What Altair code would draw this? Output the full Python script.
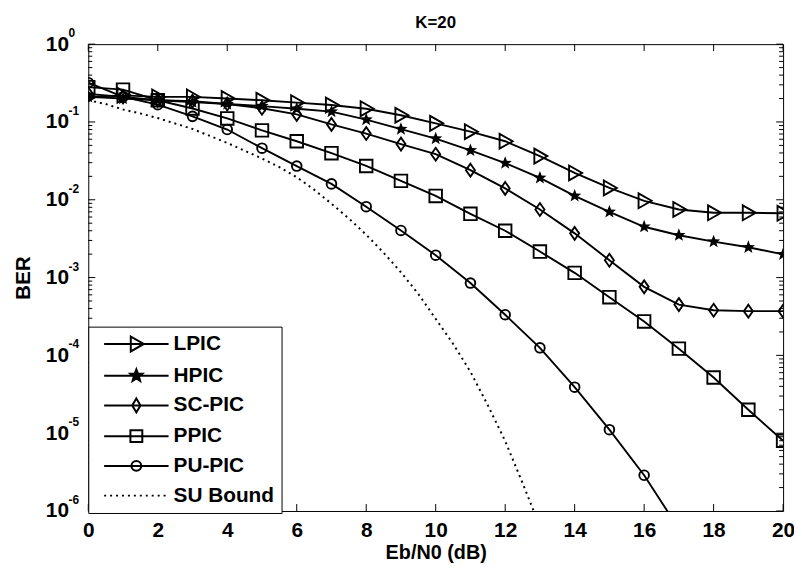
import math
import altair as alt
import pandas as pd

# ---------------- data ----------------
EBN0 = list(range(21))
LPIC = [0.21, 0.22, 0.21, 0.21, 0.20, 0.19, 0.177, 0.165, 0.148, 0.122, 0.096,
        0.075, 0.0565, 0.0364, 0.0221, 0.0142, 0.0097, 0.0075, 0.0068, 0.0068, 0.0067]
HPIC = [0.21, 0.20, 0.19, 0.18, 0.17, 0.16, 0.148, 0.136, 0.107, 0.081, 0.061,
        0.043, 0.0296, 0.0191, 0.0112, 0.0070, 0.0045, 0.0035, 0.0029, 0.00245, 0.00199]
SCPIC = [0.23, 0.21, 0.19, 0.185, 0.17, 0.15, 0.125, 0.093, 0.071, 0.052, 0.0385,
         0.024, 0.0140, 0.0075, 0.0037, 0.00167, 0.00076, 0.00045, 0.00038, 0.00037, 0.00037]
PPIC = [0.28, 0.26, 0.19, 0.149, 0.111, 0.078, 0.0565, 0.0397, 0.0272, 0.0175, 0.0112,
        0.0066, 0.0040, 0.00216, 0.00115, 0.00056, 0.000273, 0.000122, 5.2e-5, 2.0e-5, 8.0e-6]
PUPIC_X = list(range(18))
PUPIC = [0.32, 0.21, 0.167, 0.118, 0.080, 0.046, 0.0271, 0.016, 0.00815, 0.00403,
         0.00194, 0.00085, 0.000333, 0.000125, 3.9e-5, 1.11e-5, 2.88e-6, 5.9e-7]
SU_X = [0, 0.5, 1, 1.5, 2, 2.5, 3, 3.5, 4, 4.5, 5, 5.5, 6, 6.5, 7, 7.5, 8, 8.5, 9,
        9.5, 10, 10.5, 11, 11.5, 12, 12.5, 13]
SU = [0.1905, 0.170, 0.1445, 0.1288, 0.1122, 0.0955, 0.0813, 0.0661, 0.0537, 0.0427,
      0.0339, 0.0263, 0.0195, 0.0135, 0.00891, 0.00575, 0.00355, 0.00209, 0.00117,
      6.17e-4, 2.95e-4, 1.41e-4, 6.17e-5, 2.29e-5, 7.94e-6, 2.29e-6, 6.3e-7]

SERIES = ["LPIC", "HPIC", "SC-PIC", "PPIC", "PU-PIC", "SU Bound"]
TITLE = ["K=20"]

Y_MAJOR = [1, 0.1, 0.01, 1e-3, 1e-4, 1e-5, 1e-6]
Y_EXP = ["0", "-1", "-2", "-3", "-4", "-5", "-6"]
Y_MINOR = [m * 10.0 ** k for k in range(-6, 0) for m in range(2, 10)]
X_TICKS = list(range(0, 21, 2))

# ---------------- style ----------------
FONT = "Liberation Sans"
W, H = 701, 471
LW = 1.9

xscale = alt.Scale(domain=[0, 20], nice=False, zero=False)
yscale = alt.Scale(type="log", domain=[1e-6, 1], nice=False)

xaxis = alt.Axis(values=X_TICKS, ticks=False, tickSize=0, domain=False, grid=False,
                 labelFont=FONT, labelFontSize=21, labelFontWeight="bold",
                 labelColor="black", labelPadding=9, labelOverlap=False,
                 labelFlush=False, title="Eb/N0 (dB)", titleFont=FONT,
                 titleFontSize=20, titleFontWeight="bold", titleColor="black",
                 titlePadding=2)
yaxis = alt.Axis(values=Y_MAJOR, labelExpr="'10'", ticks=False, tickSize=0,
                 domain=False, grid=False, labelFont=FONT, labelFontSize=21,
                 labelFontWeight="bold", labelColor="black", labelPadding=20,
                 labelOverlap=False, title="BER", titleFont=FONT, titleFontSize=21,
                 titleFontWeight="bold", titleColor="black", titlePadding=12)


def X(f="x"):
    return alt.X(f"{f}:Q", scale=xscale, axis=xaxis)


def Y(f="y"):
    return alt.Y(f"{f}:Q", scale=yscale, axis=yaxis)


# marker shapes (unit box)
TRI = "M-0.75,-1L1,0L-0.75,1Z"
DIA = "M0,-1L0.7,0L0,1L-0.7,0Z"


def star_pts():
    pts = []
    for i in range(10):
        r = 1.0 if i % 2 == 0 else 0.42
        a = math.radians(-90 + 36 * i)
        pts.append((r * math.cos(a), r * math.sin(a)))
    return pts


STAR = "M" + "L".join(f"{x:.3f},{y:.3f}" for x, y in star_pts()) + "Z"

MARKERS = {
    "LPIC": dict(shape=TRI, size=225, filled=False),
    "HPIC": dict(shape=STAR, size=196, filled=True),
    "SC-PIC": dict(shape=DIA, size=169, filled=False),
    "PPIC": dict(shape="square", size=160, filled=False),
    "PU-PIC": dict(shape="circle", size=95, filled=False),
}

series_data = {
    "LPIC": (EBN0, LPIC),
    "HPIC": (EBN0, HPIC),
    "SC-PIC": (EBN0, SCPIC),
    "PPIC": (EBN0, PPIC),
    "PU-PIC": (PUPIC_X, PUPIC),
}

layers = []

# ticks (inside the frame)
ymaj = pd.DataFrame({"y": Y_MAJOR})
ymin = pd.DataFrame({"y": Y_MINOR})
xt = pd.DataFrame({"x": X_TICKS})
for df, ln in ((ymaj, 7), (ymin, 4)):
    layers.append(alt.Chart(df).mark_rule(color="black", strokeWidth=1).encode(
        y=Y(), x=alt.value(0), x2=alt.value(ln)))
    layers.append(alt.Chart(df).mark_rule(color="black", strokeWidth=1).encode(
        y=Y(), x=alt.value(W - ln), x2=alt.value(W)))
layers.append(alt.Chart(xt).mark_rule(color="black", strokeWidth=1).encode(
    x=X(), y=alt.value(H), y2=alt.value(H - 7)))
layers.append(alt.Chart(xt).mark_rule(color="black", strokeWidth=1).encode(
    x=X(), y=alt.value(0), y2=alt.value(7)))

# exponent labels for 10^k
expdf = pd.DataFrame({"y": Y_MAJOR, "e": Y_EXP})
layers.append(alt.Chart(expdf).mark_text(align="left", baseline="middle", dy=-11,
                                         font=FONT, fontSize=12, fontWeight="bold",
                                         color="black").encode(
    y=Y(), x=alt.value(-20), text="e:N"))

# chart title
layers.append(alt.Chart(pd.DataFrame({"t": TITLE})).mark_text(
    align="center", baseline="alphabetic", font=FONT, fontSize=17,
    fontWeight="bold", color="black").encode(
    x=alt.value(W / 2), y=alt.value(-16), text="t:N"))

# SU bound dotted
sudf = pd.DataFrame({"x": SU_X, "y": SU})
layers.append(alt.Chart(sudf).mark_line(color="black", strokeWidth=2,
                                        strokeDash=[2, 4], clip=True).encode(
    x=X(), y=Y()))

for name in ["PU-PIC", "PPIC", "SC-PIC", "HPIC", "LPIC"]:
    xs, ys = series_data[name]
    df = pd.DataFrame({"x": xs, "y": ys})
    layers.append(alt.Chart(df).mark_line(color="black", strokeWidth=LW,
                                          clip=True).encode(x=X(), y=Y()))
for name in ["PU-PIC", "PPIC", "SC-PIC", "HPIC", "LPIC"]:
    xs, ys = series_data[name]
    df = pd.DataFrame({"x": xs, "y": ys})
    m = MARKERS[name]
    layers.append(alt.Chart(df).mark_point(
        shape=m["shape"], size=m["size"], filled=m["filled"], color="black",
        strokeWidth=LW, opacity=1, clip=True).encode(x=X(), y=Y()))

# ---------------- legend symbols: line + marker as one path ----------------
U = 6.5          # px per unit for legend symbol size 169
L0, L1 = -1.5, 63.5  # line extent in px, relative to symbol centre
MC = 31.0        # marker centre (px)


def fmt(px):
    return f"{px / U:.3f}"


def poly_path(pts, r):
    return "M" + "L".join(f"{fmt(MC + x * r)},{fmt(y * r)}" for x, y in pts) + "Z"


line_path = f"M{fmt(L0)},0L{fmt(L1)},0"
tri_pts = [(-0.75, -1), (1, 0), (-0.75, 1)]
dia_pts = [(0, -1), (0.6, 0), (0, 1), (-0.6, 0)]
sq_pts = [(-1, -1), (1, -1), (1, 1), (-1, 1)]
cr = 5.0
circ = (f"M{fmt(MC + cr)},0A{fmt(cr)},{fmt(cr)} 0 1 1 {fmt(MC - cr)},0"
        f"A{fmt(cr)},{fmt(cr)} 0 1 1 {fmt(MC + cr)},0Z")
dots = "".join(f"M{fmt(L0 + i * 6)},0L{fmt(L0 + i * 6 + 2)},0" for i in range(11))

LEG_PATHS = [
    line_path + poly_path(tri_pts, 7.5),
    line_path + poly_path(star_pts(), 6.5),
    line_path + poly_path(dia_pts, 7),
    line_path + poly_path(sq_pts, 6),
    line_path + circ,
    dots,
]
LEG_FILLS = ["transparent", "black", "transparent", "transparent", "transparent",
             "transparent"]
LEG_STROKES = ["black"] * 6

leg = alt.Legend(title=None, orient="none", legendX=0, legendY=285, direction="vertical",
                 padding=7, symbolSize=169, symbolStrokeWidth=2, labelOffset=58,
                 rowPadding=8, labelFont=FONT, labelFontSize=21, labelFontWeight="bold",
                 labelColor="black", fillColor="white", strokeColor="black",
                 symbolStrokeColor="black", labelLimit=0)

legdf = pd.DataFrame({"series": SERIES, "x": [10] * 6, "y": [1e-9] * 6})
layers.append(alt.Chart(legdf).mark_point(filled=False, strokeWidth=2,
                                          opacity=1, clip=True).encode(
    x=X(), y=Y(),
    shape=alt.Shape("series:N", scale=alt.Scale(domain=SERIES, range=LEG_PATHS),
                    legend=leg),
    fill=alt.Fill("series:N", scale=alt.Scale(domain=SERIES, range=LEG_FILLS),
                  legend=leg),
    stroke=alt.Stroke("series:N", scale=alt.Scale(domain=SERIES, range=LEG_STROKES),
                      legend=leg),
))

chart = alt.layer(*layers).properties(
    width=W, height=H,
    autosize=alt.AutoSizeParams(type="none"),
    padding={"left": 81, "top": 34, "right": 11, "bottom": 51},
    background="white",
).configure_view(stroke="black", strokeWidth=1)

chart.save("out.html", embed_options={"renderer": "svg", "actions": False})
